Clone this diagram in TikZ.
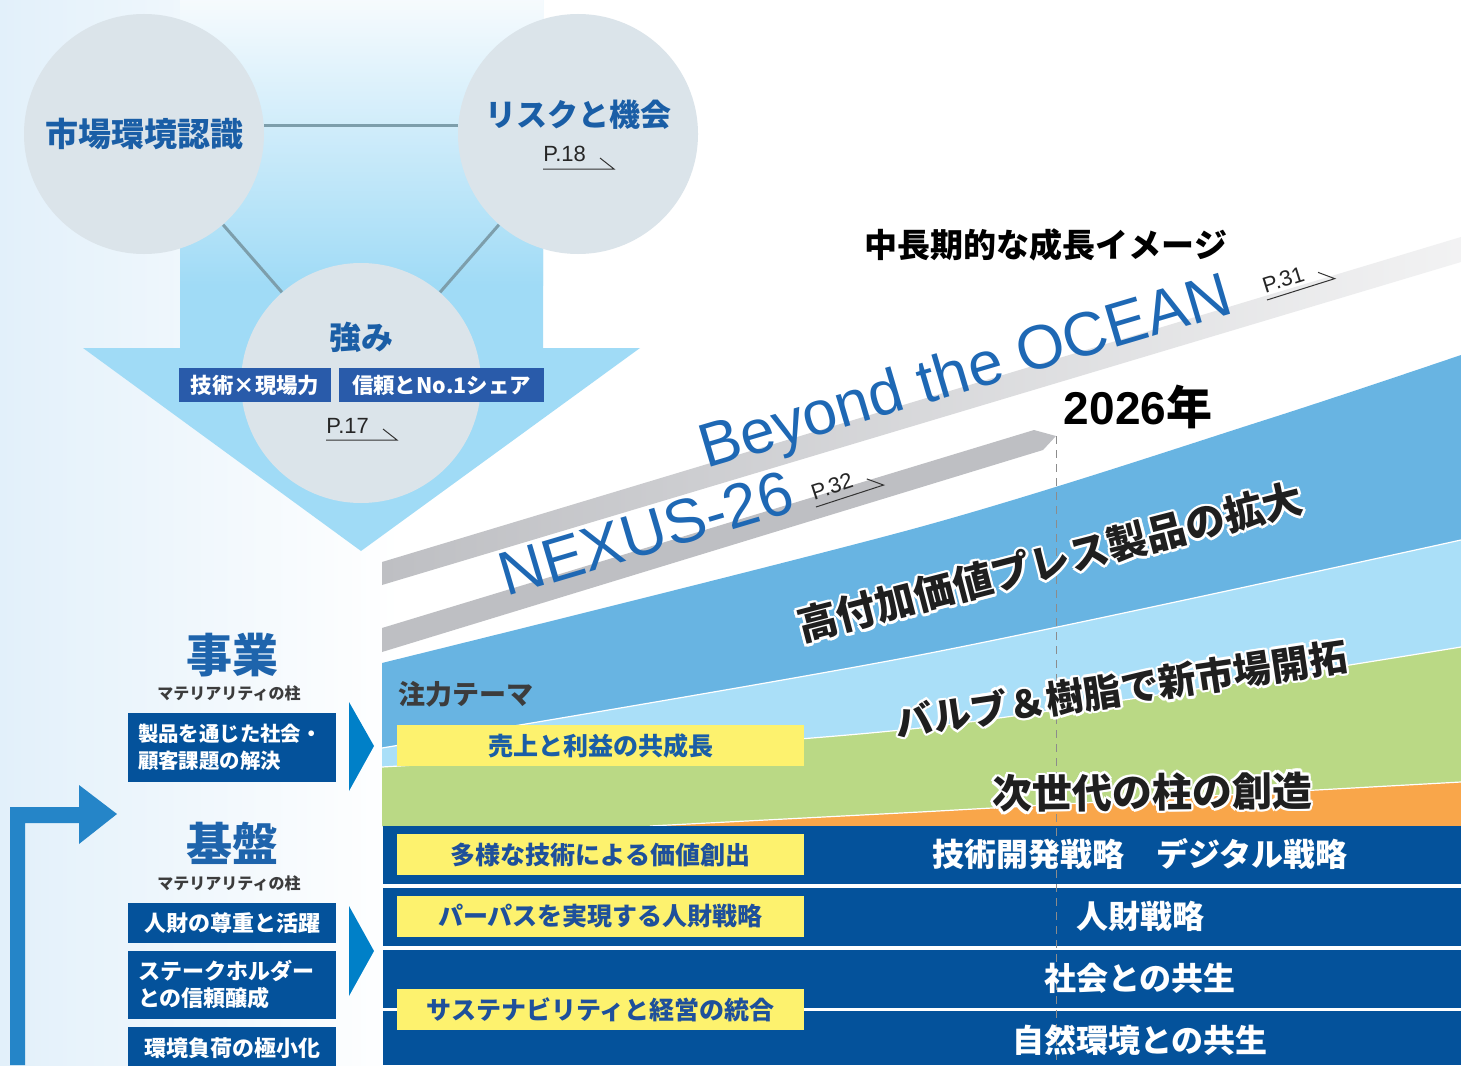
\documentclass[tikz,border=0pt]{standalone}
\usepackage{fontspec}
\setmainfont{Noto Sans CJK JP}
\newfontfamily\latinfont{Liberation Sans}
\usetikzlibrary{positioning,calc}

\definecolor{bgblue}{RGB}{226,240,250}
\definecolor{circfill}{RGB}{219,228,234}
\definecolor{linkgray}{RGB}{125,158,171}
\definecolor{arrowblue}{RGB}{160,219,246}
\definecolor{titleblue}{RGB}{26,94,166}
\definecolor{strblue}{RGB}{41,91,170}
\definecolor{chartblue}{RGB}{104,180,226}
\definecolor{chartlight}{RGB}{170,223,248}
\definecolor{chartgreen}{RGB}{186,217,133}
\definecolor{chartorange}{RGB}{249,166,74}
\definecolor{rowblue}{RGB}{4,82,155}
\definecolor{themeyellow}{RGB}{253,242,110}
\definecolor{themetext}{RGB}{30,80,155}
\definecolor{bandgray}{RGB}{190,191,195}
\definecolor{oceanblue}{RGB}{30,104,180}
\definecolor{pillarblue}{RGB}{30,100,172}
\definecolor{loopblue}{RGB}{37,133,200}
\definecolor{triblue}{RGB}{0,128,200}
\definecolor{inkgray}{RGB}{60,60,60}

\newcommand\fsz[1]{\fontsize{#1}{#1}\selectfont}

% page reference with hooked underline
\newcommand\pagemark[4]{%
  \begin{scope}[shift={#2},rotate=#3]
    \node[pref,rotate=#3] (#1) at (0,-7) {P.#4};
    \draw[prefline] (0,0) -- (71,0) -- (57,-11);
  \end{scope}}

% black label with a thin white rim
\newcommand\chartnote[5]{%
  \foreach \a in {0,30,...,330}
    \node[chartlabel, text=white, rotate=#3, font=\bfseries\fsz{#4}] at ($#2+(\a:2.4)$) {#5};
  \node[chartlabel, rotate=#3, font=\bfseries\fsz{#4}] (#1) at #2 {#5}}

\begin{document}
\begin{tikzpicture}[x=0.5pt,y=-0.5pt,
    circ/.style = {circle, fill=circfill, minimum size=120pt, inner sep=0pt},
    circtitle/.style = {text=titleblue, font=\bfseries\fsz{16.5}},
    link/.style = {linkgray, line width=1.5pt},
    strengthbox/.style = {fill=strblue, text=white, font=\bfseries\fsz{10.7},
        minimum height=17pt, inner sep=0pt},
    pref/.style = {anchor=base west, inner sep=0pt, font=\latinfont\fsz{11}, text=black!85},
    prefline/.style = {black!80, line width=0.5pt},
    theme/.style = {fill=themeyellow, text=themetext, font=\bfseries\fsz{12.5},
        minimum width=203.5pt, minimum height=20.5pt, inner sep=0pt},
    rowlabel/.style = {text=white, font=\bfseries\fsz{16}},
    chartlabel/.style = {text=black!88, inner sep=0pt},
    plan/.style = {anchor=base west, inner sep=0pt, text=oceanblue, font=\latinfont\fsz{31}},
    pillar/.style = {text=pillarblue, font=\bfseries\fsz{23}},
    pillarsub/.style = {text=inkgray, font=\bfseries\fsz{8}},
    leftbox/.style = {fill=rowblue, text=white, font=\bfseries\fontsize{11}{13.5}\selectfont,
        minimum width=104pt, text width=94pt, inner xsep=5pt, inner ysep=0pt},
    boundary/.style = {white, line width=0.6pt}]

    \useasboundingbox (0,0) rectangle (1461,1065);
    \clip (0,0) rectangle (1461,1065);

    % background
    \fill[white] (0,0) rectangle (1461,1065);
    \shade[left color=bgblue, right color=white] (0,0) rectangle (400,1065);

    % big arrow
    \fill[arrowblue] (180,0) -- (543,0) -- (543,348) -- (640,348) -- (361,551)
        -- (83,348) -- (180,348) -- cycle;
    \shade[top color=bgblue!30!white, bottom color=arrowblue] (180,0) rectangle (543,285);

    % three circles
    \node[circ, circtitle] (market) at (144,134) {市場環境認識};
    \node[circ] (risk) at (578,134) {};
    \node[circ] (strength) at (361,383) {};
    \draw[link] (market.4) -- (risk.176);
    \draw[link] (market) -- (strength);
    \draw[link] (risk) -- (strength);

    \node[circtitle, font=\bfseries\fsz{15.5}] (riskT) at (578,115) {リスクと機会};
    \pagemark{p18}{(543,169)}{0}{18}
    \node[circtitle, font=\bfseries\fsz{16}] (strengthT) at (361,337) {強み};
    \node[strengthbox, minimum width=76pt] (craft) at (255,385) {技術×現場力};
    \node[strengthbox, minimum width=102.5pt] (trust) at (441.5,385) {信頼とNo.1シェア};
    \pagemark{p17}{(326,440)}{0}{17}

    % growth areas
    \fill[chartblue] plot[smooth] coordinates {(382,663) (920,527) (1265,420) (1461,355)}
        -- (1461,826) -- (382,826) -- cycle;
    \fill[chartlight] plot[smooth] coordinates {(382,748) (920,655) (1461,540)}
        -- (1461,826) -- (382,826) -- cycle;
    \fill[chartgreen] plot[smooth] coordinates {(382,767) (920,728) (1461,647)}
        -- (1461,826) -- (382,826) -- cycle;
    \fill[chartorange] (650,826) -- (920,812) -- (1461,782) -- (1461,826) -- cycle;
    \draw[boundary] plot[smooth] coordinates {(382,748) (920,655) (1461,540)};
    \draw[boundary] plot[smooth] coordinates {(382,767) (920,728) (1461,647)};
    \draw[boundary] (650,826) -- (920,812) -- (1461,782);

    % foundation rows
    \foreach \ya/\yb in {826/884, 888/946, 950/1008, 1011/1065}
        \fill[rowblue] (383,\ya) rectangle (1461,\yb);

    % plan bands
    \coordinate (tip) at (1056,436);
    \shade[left color=bandgray, right color=bandgray!20!white]
        (382,562) -- (1461,237) -- (1461,262) -- (382,585) -- cycle;
    \fill[bandgray] (382,628) -- (1034,430) -- (tip) -- (1043,450) -- (382,652) -- cycle;
    \draw[black!45, line width=0.5pt, dash pattern=on 4pt off 3pt] (tip) -- (tip |- 0,1065);

    \node[plan, rotate=16.5] (ocean) at (706,469) {Beyond the OCEAN};
    \node[plan, rotate=16.5] (nexus) at (506,597) {NEXUS-26};
    \pagemark{p31}{(1267,300)}{17.5}{31}
    \pagemark{p32}{(816,507)}{18}{32}
    \node[font=\bfseries\fsz{16.5}] (outlook) at (1046,245) {中長期的な成長イメージ};
    \node[font=\bfseries\fsz{23}] (year) at (1138,407) {{\latinfont\bfseries 2026}年};

    \chartnote{press}{(1050,562)}{14.5}{20}{高付加価値プレス製品の拡大};
    \chartnote{valve}{(1121,689)}{8.5}{19}{バルブ＆樹脂で新市場開拓};
    \chartnote{next}{(1152,792)}{0.6}{20}{次世代の柱の創造};

    % focus themes
    \node[text=inkgray, font=\bfseries\fsz{13.5}] (focus) at (466,694) {注力テーマ};
    \node[theme, text=titleblue] (sales) at (600.5,745.5) {売上と利益の共成長};
    \node[theme] (tech) at (600.5,854.5) {多様な技術による価値創出};
    \node[theme] (purpose) at (600.5,916.5) {パーパスを実現する人財戦略};
    \node[theme] (sustain) at (600.5,1009.5) {サステナビリティと経営の統合};

    \node[rowlabel] (techstrat) at (1140,854) {技術開発戦略　デジタル戦略};
    \node[rowlabel] (hrstrat) at (1140,916) {人財戦略};
    \node[rowlabel] (society) at (1140,978) {社会との共生};
    \node[rowlabel] (nature) at (1140,1040) {自然環境との共生};

    % materiality pillars
    \node[pillar] (biz) at (232,655) {事業};
    \node[pillarsub] (bizsub) at (229,693) {マテリアリティの柱};
    \node[leftbox, align=left, minimum height=34.5pt,
        font=\bfseries\fontsize{10.2}{13.5}\selectfont] (bizbox) at (232,747.5)
        {製品を通じた社会・\\顧客課題の解決};
    \node[pillar] (base) at (232,843) {基盤};
    \node[pillarsub] (basesub) at (229,883) {マテリアリティの柱};
    \node[leftbox, align=center, minimum height=20pt] (people) at (232,923) {人財の尊重と活躍};
    \node[leftbox, align=left, minimum height=34pt] (stake) at (232,985)
        {ステークホルダー\\との信頼醸成};
    \node[leftbox, align=center, minimum height=21pt] (env) at (232,1048) {環境負荷の極小化};

    \fill[triblue] (349,702) -- (374,746) -- (349,791) -- cycle;
    \fill[triblue] (349,906) -- (374,951) -- (349,996) -- cycle;

    % feedback arrow
    \fill[loopblue] (10,1065) -- (10,807) -- (79,807) -- (79,785) -- (117,814)
        -- (79,844) -- (79,823) -- (25,823) -- (25,1065) -- cycle;
\end{tikzpicture}
\end{document}
